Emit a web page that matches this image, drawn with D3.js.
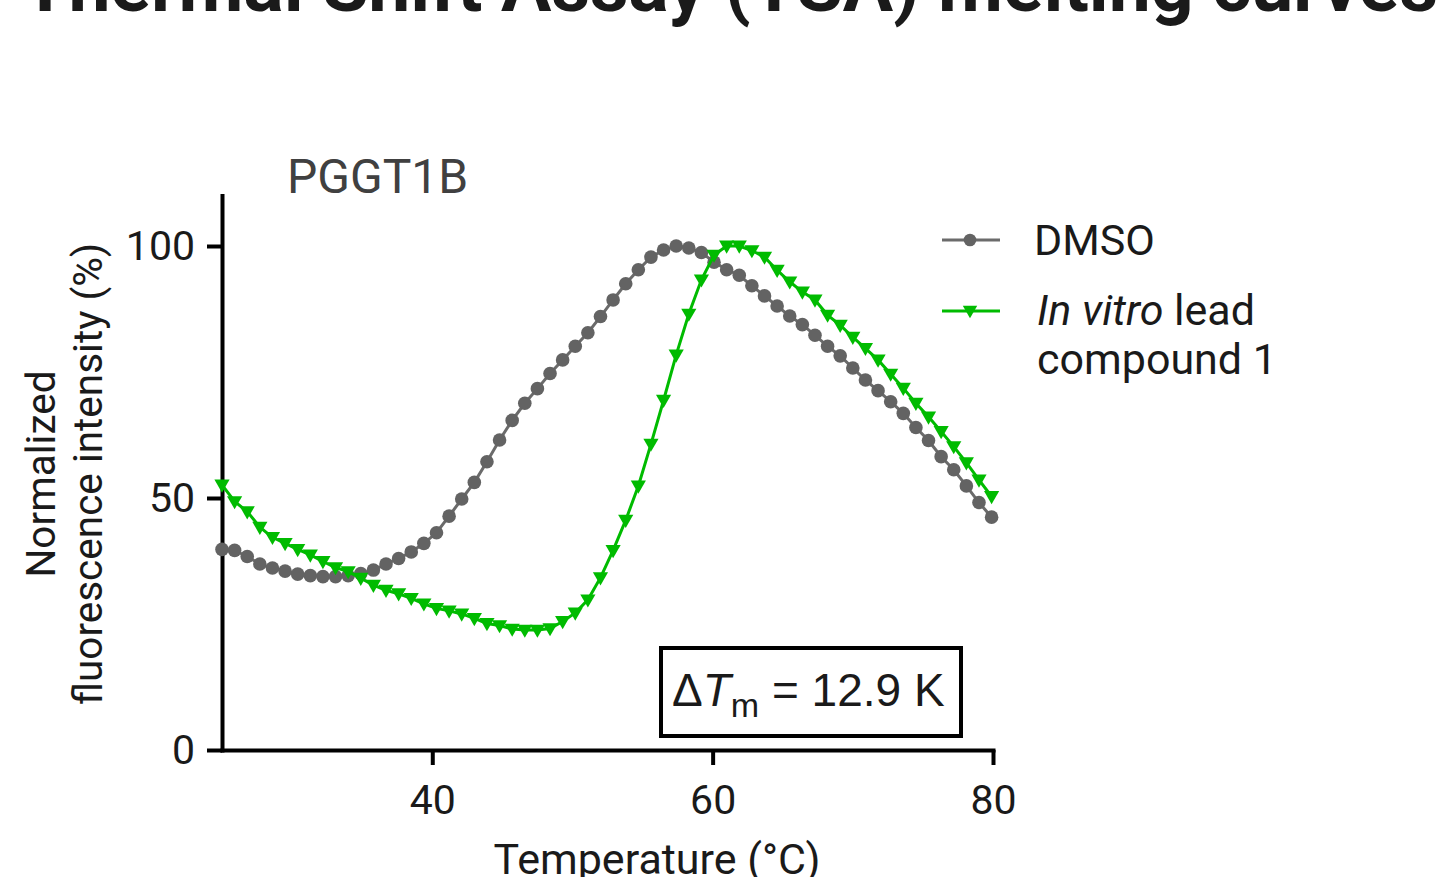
<!DOCTYPE html>
<html>
<head>
<meta charset="utf-8">
<script src="https://cdn.jsdelivr.net/npm/d3@7"></script>
<style>
  html, body { margin: 0; padding: 0; background: #fff; }
  svg { display: block; font-family: Roboto, "Noto Sans", sans-serif; }
</style>
</head>
<body>
<svg id="chart" width="1445" height="877"></svg>
<script>
// ---------- data ----------
const title = "Thermal Shift Assay (TSA) melting curves";
const subtitle = "PGGT1B";
const temperatures = [25.0,25.9,26.8,27.7,28.6,29.5,30.4,31.3,32.2,33.1,34.0,34.9,35.8,36.7,37.6,38.5,39.4,40.3,41.2,42.1,43.0,43.9,44.8,45.7,46.6,47.5,48.4,49.3,50.2,51.1,52.0,52.9,53.8,54.7,55.6,56.5,57.4,58.3,59.2,60.1,61.0,61.9,62.8,63.7,64.6,65.5,66.4,67.3,68.2,69.1,70.0,70.9,71.8,72.7,73.6,74.5,75.4,76.3,77.2,78.1,79.0,79.9];
const dmsoValues = [39.8,39.6,38.4,36.9,36.1,35.5,34.9,34.6,34.4,34.4,
  34.6,35.0,35.7,36.9,38.0,39.3,41.0,43.1,46.4,49.8,
  53.1,57.2,61.5,65.4,68.8,71.7,74.7,77.4,80.1,82.8,
  86.0,89.3,92.5,95.3,97.8,99.2,100,99.6,98.7,96.8,
  95.3,94.2,92.1,90.1,88.1,86.1,84.4,82.3,80.1,78.2,
  75.8,73.4,71.3,69.1,66.8,64.0,61.4,58.2,55.6,52.4,
  49.1,46.2];
const compoundValues = [52.6,49.3,47.3,44.2,42.2,41.0,39.8,38.7,37.4,36.2,
  35.4,34.1,32.7,31.7,31.0,30.1,29.0,28.1,27.6,27.0,
  26.1,25.1,24.7,24.0,23.8,23.8,24.1,25.5,27.2,29.8,
  34.2,39.6,45.6,52.4,60.7,69.4,78.4,86.5,93.3,98.2,
  100,100,99.1,97.8,95.2,92.9,90.9,89.3,86.3,84.3,
  81.9,79.7,77.4,74.6,71.8,68.8,66.1,63.2,60.2,57.0,
  53.6,50.3];
const xTicks = [40, 60, 80];
const yTicks = [0, 50, 100];
const xLabel = "Temperature (°C)";
const yLabelLines = ["Normalized", "fluorescence intensity (%)"];
const seriesNames = ["DMSO", "In vitro lead compound 1"];
const deltaTm = "12.9 K";

// ---------- setup ----------
const svg = d3.select("#chart");
const x = d3.scaleLinear().domain([25, 80]).range([222, 993]);
const y = d3.scaleLinear().domain([0, 110]).range([750, 195.6]);

const gray = "#636363", grayLine = "#6b6b6b";
const green = "#00bb00";
const ink = "#1a1a1a";

// Title (cut off at top, as in the reference)
const t = svg.append("text")
  .attr("x", 730).attr("y", 11)
  .attr("text-anchor", "middle")
  .attr("font-weight", "bold")
  .attr("font-size", 100)
  .attr("fill", ink)
  .text(title);
const tl = t.node().getComputedTextLength();
t.attr("font-size", 100 * 1416 / tl);

// Subtitle
svg.append("text")
  .attr("x", 287).attr("y", 193)
  .attr("font-size", 48)
  .attr("fill", "#404040")
  .text(subtitle);

// Axes
const axisW = 4;
const yAxis = svg.append("g")
  .attr("transform", "translate(222,0)")
  .call(d3.axisLeft(y).tickValues(yTicks).tickSize(15).tickSizeOuter(0).tickPadding(12));
const xAxis = svg.append("g")
  .attr("transform", "translate(0,750)")
  .call(d3.axisBottom(x).tickValues(xTicks).tickSize(15).tickSizeOuter(0).tickPadding(20));
[yAxis, xAxis].forEach(g => {
  g.select(".domain").attr("stroke", "#000").attr("stroke-width", axisW).attr("stroke-linecap", "square");
  g.selectAll(".tick line").attr("stroke", "#000").attr("stroke-width", axisW);
  g.selectAll(".tick text").attr("font-size", 41).attr("fill", ink).attr("font-family", "Roboto");
});

// Axis titles
svg.append("text")
  .attr("x", 657).attr("y", 874)
  .attr("text-anchor", "middle")
  .attr("font-size", 43).attr("fill", ink)
  .text(xLabel);
[55, 102].forEach((bx, i) => {
  svg.append("text")
    .attr("transform", `translate(${bx},474) rotate(-90)`)
    .attr("text-anchor", "middle")
    .attr("font-size", 40.5).attr("fill", ink)
    .text(yLabelLines[i]);
});

// Series
const dmso = temperatures.map((tt, i) => ({ t: tt, v: dmsoValues[i] }));
const comp = temperatures.map((tt, i) => ({ t: tt, v: compoundValues[i] }));
const line = d3.line().x(d => x(d.t)).y(d => y(d.v));

svg.append("path").datum(dmso)
  .attr("d", line).attr("fill", "none")
  .attr("stroke", grayLine).attr("stroke-width", 3);
svg.append("g").selectAll("circle").data(dmso).join("circle")
  .attr("cx", d => x(d.t)).attr("cy", d => y(d.v))
  .attr("r", 6.8).attr("fill", gray);

svg.append("path").datum(comp)
  .attr("d", line).attr("fill", "none")
  .attr("stroke", green).attr("stroke-width", 3);
const tri = d3.symbol().type(d3.symbolTriangle).size(100);
svg.append("g").selectAll("path").data(comp).join("path")
  .attr("d", tri)
  .attr("transform", d => `translate(${x(d.t)},${y(d.v) - 1}) rotate(180)`)
  .attr("fill", green);

// Legend
svg.append("line").attr("x1", 942).attr("x2", 1000).attr("y1", 240).attr("y2", 240)
  .attr("stroke", grayLine).attr("stroke-width", 3);
svg.append("circle").attr("cx", 970).attr("cy", 240).attr("r", 6.3).attr("fill", gray);
svg.append("text").attr("x", 1034).attr("y", 255).attr("font-size", 43).attr("fill", ink)
  .text(seriesNames[0]);

svg.append("line").attr("x1", 942).attr("x2", 1000).attr("y1", 311).attr("y2", 311)
  .attr("stroke", green).attr("stroke-width", 3);
svg.append("path").attr("d", d3.symbol().type(d3.symbolTriangle).size(90)())
  .attr("transform", "translate(970,310) rotate(180)").attr("fill", green);
const lt = svg.append("text").attr("x", 1037).attr("y", 325).attr("font-size", 43).attr("fill", ink);
lt.append("tspan").attr("font-style", "italic").text("In vitro");
lt.append("tspan").text(" lead");
svg.append("text").attr("x", 1037).attr("y", 374).attr("font-size", 43).attr("fill", ink)
  .text("compound 1");

// Annotation box
svg.append("rect").attr("x", 661).attr("y", 648).attr("width", 300).attr("height", 88)
  .attr("fill", "#fff").attr("stroke", "#000").attr("stroke-width", 4);
const at = svg.append("text").attr("x", 672).attr("y", 706)
  .attr("font-family", "'Liberation Sans', Arial, sans-serif")
  .attr("font-size", 46).attr("fill", ink);
at.append("tspan").text("Δ");
at.append("tspan").attr("font-style", "italic").text("T");
at.append("tspan").attr("font-size", 34).attr("dy", 11).attr("dx", 0).text("m");
at.append("tspan").attr("dy", -11).text(" = " + deltaTm);
</script>
</body>
</html>
